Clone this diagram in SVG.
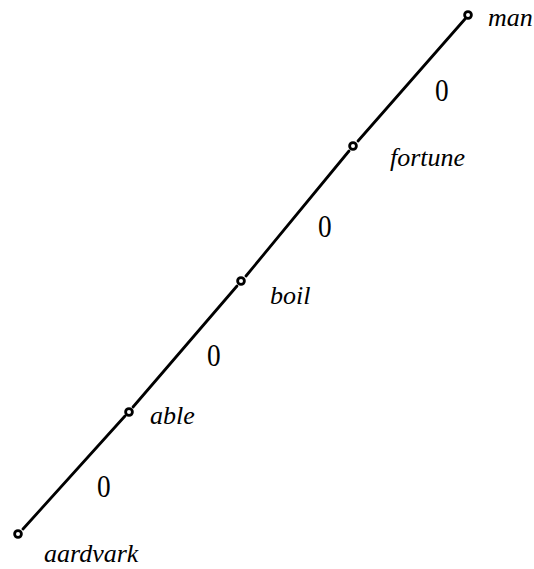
<svg xmlns="http://www.w3.org/2000/svg" width="534" height="569" viewBox="0 0 534 569">
<style>
.edge{stroke:#000;stroke-width:2.8;stroke-linecap:round;fill:none}
.node{fill:#fff;stroke:#000;stroke-width:2.8}
.lbl{font-family:"Liberation Serif",serif;font-style:italic;font-size:26px;fill:#000}
.w{font-family:"Liberation Serif",serif;font-size:31px;fill:#000}
</style>
<rect width="534" height="569" fill="#fff"/>
<g id="connectors">
<line class="edge" x1="23" y1="529" x2="125" y2="416"/>
<line class="edge" x1="133" y1="407" x2="237" y2="286"/>
<line class="edge" x1="246" y1="276" x2="349" y2="151"/>
<line class="edge" x1="358" y1="141" x2="465" y2="19"/>
<text class="w" transform="translate(97,497) scale(0.88,1)">0</text>
<text class="w" transform="translate(207,366) scale(0.88,1)">0</text>
<text class="w" transform="translate(318,237) scale(0.88,1)">0</text>
<text class="w" transform="translate(435,101) scale(0.88,1)">0</text>
</g>
<g id="aardvark"><circle class="node" cx="18" cy="534" r="3.4"/><text class="lbl" x="44" y="562">aardvark</text></g>
<g id="able"><circle class="node" cx="129" cy="412" r="3.4"/><text class="lbl" x="150" y="424">able</text></g>
<g id="boil"><circle class="node" cx="241" cy="281" r="3.4"/><text class="lbl" x="270" y="304">boil</text></g>
<g id="fortune"><circle class="node" cx="353" cy="146" r="3.4"/><text class="lbl" x="390" y="166">fortune</text></g>
<g id="man"><circle class="node" cx="468" cy="15" r="3.4"/><text class="lbl" x="488" y="26">man</text></g>
</svg>
